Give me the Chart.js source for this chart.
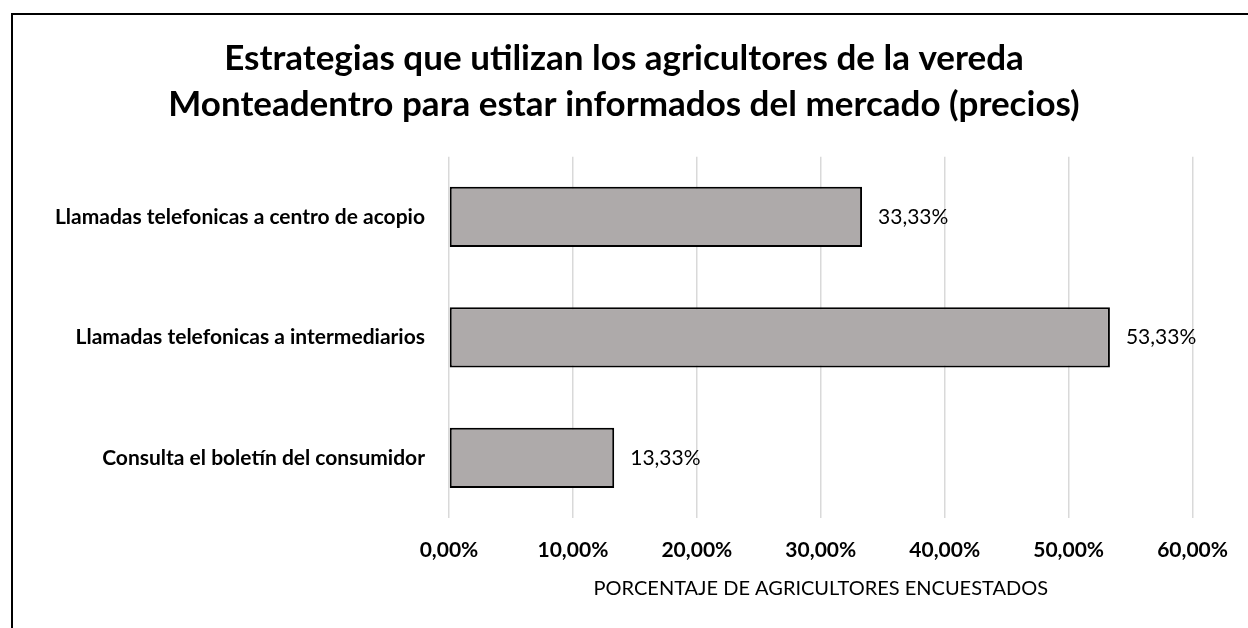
<!DOCTYPE html>
<html>
<head>
<meta charset="utf-8">
<script src="https://cdn.jsdelivr.net/npm/chart.js@4/dist/chart.umd.min.js"></script>
<style>
  html, body { margin: 0; padding: 0; background: #fff; }
  #wrap { position: relative; width: 1248px; height: 628px; overflow: hidden; }
  #marco { position: absolute; left: 11px; top: 13px; width: 1400px; height: 800px; border: 2px solid #000; box-sizing: border-box; }
  canvas { position: absolute; left: 0; top: 0; }
</style>
</head>
<body>
<div id="wrap">
  <div id="marco"></div>
  <canvas id="bar_Chart" width="1248" height="628"></canvas>
</div>
<script>
// datos del gráfico
const estrategias = [
  'Llamadas telefonicas a centro de acopio',
  'Llamadas telefonicas a intermediarios',
  'Consulta el boletín del consumidor'
];
const porcentajes = [33.33, 53.33, 13.33];
const ticksEje = [0, 10, 20, 30, 40, 50, 60];

const fmt = v => Number(v).toFixed(2).replace('.', ',') + '%';
const fuente = 'Lato, "Open Sans", sans-serif';

// etiquetas al lado de cada barra
const etiquetas = {
  id: 'etiquetas',
  afterDatasetsDraw(chart) {
    const ctx = chart.ctx;
    const meta = chart.getDatasetMeta(0);
    ctx.save();
    ctx.font = '21px ' + fuente;
    ctx.fillStyle = '#000';
    ctx.textAlign = 'left';
    ctx.textBaseline = 'middle';
    meta.data.forEach((bar, i) => {
      ctx.fillText(fmt(porcentajes[i]), bar.x + 16, bar.y);
    });
    ctx.restore();
  }
};

const chartCanvas = document.getElementById('bar_Chart');

const config = {
  type: 'bar',
  data: {
    labels: estrategias,
    datasets: [{
      data: porcentajes,
      backgroundColor: '#aeaaaa',
      borderColor: '#000',
      borderWidth: 2,
      borderSkipped: false,
      barPercentage: 0.5,
      categoryPercentage: 1
    }]
  },
  options: {
    indexAxis: 'y',
    responsive: false,
    animation: false,
    layout: { padding: { left: 55, right: 55, top: 0, bottom: 0 } },
    plugins: {
      legend: { display: false },
      tooltip: { enabled: false },
      title: {
        display: true,
        text: ['Estrategias que utilizan los agricultores de la vereda',
               'Monteadentro para estar informados del mercado (precios)'],
        color: '#000',
        font: { family: fuente, size: 35, weight: 'bold', lineHeight: 1.31 },
        padding: { top: 36, bottom: 29 }
      }
    },
    scales: {
      x: {
        min: 0,
        max: 60,
        afterBuildTicks: scale => { scale.ticks = ticksEje.map(v => ({ value: v })); },
        afterFit: scale => { scale.height = 110; },
        grid: { color: '#d9d9d9', lineWidth: 1.5, drawTicks: false },
        border: { display: false },
        ticks: {
          padding: 20,
          color: '#000',
          font: { family: fuente, size: 21, weight: 'bold' },
          callback: v => fmt(v)
        },
        title: {
          display: true,
          text: 'PORCENTAJE DE AGRICULTORES ENCUESTADOS',
          color: '#000',
          font: { family: fuente, size: 20 },
          padding: { top: 0, bottom: 27 }
        }
      },
      y: {
        afterFit: scale => { scale.width = 394; },
        grid: { display: false },
        border: { display: false },
        ticks: {
          padding: 16,
          color: '#000',
          font: { family: fuente, size: 21, weight: 'bold' }
        }
      }
    }
  },
  plugins: [etiquetas]
};

const myChart = new Chart(chartCanvas, config);
</script>
</body>
</html>
